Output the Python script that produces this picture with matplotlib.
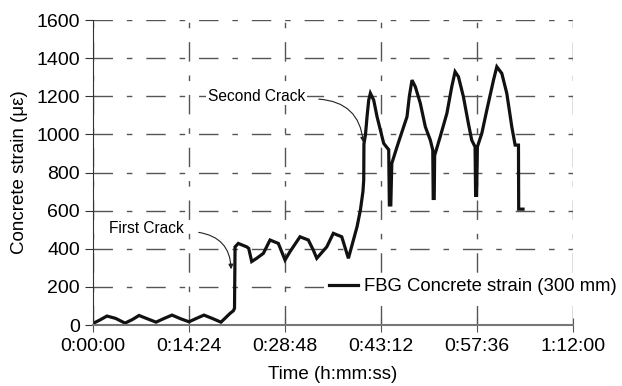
import matplotlib
matplotlib.use("Agg")
import matplotlib.pyplot as plt
from matplotlib.ticker import FuncFormatter, FixedLocator

plt.rcParams['font.family'] = ['Liberation Sans', 'DejaVu Sans']

# tiempo (s) y deformacion (microstrain)
t = [0, 55, 123, 200, 286, 350, 412, 490, 565, 640, 709, 790, 862, 930, 997,
     1070, 1150, 1195, 1230, 1262, 1272, 1277, 1306, 1382, 1400, 1427, 1472,
     1532, 1592, 1667, 1727, 1772, 1862, 1937, 1982, 2013, 2103, 2162, 2238,
     2298, 2331, 2376, 2406, 2429, 2436, 2438, 2452, 2467, 2481, 2496, 2526,
     2556, 2586, 2616, 2640, 2661, 2667, 2680, 2689, 2736, 2766, 2826, 2847,
     2871, 2901, 2946, 2991, 3036, 3058, 3062, 3071, 3075, 3125, 3185, 3229,
     3259, 3289, 3334, 3379, 3409, 3439, 3444, 3453, 3460, 3500, 3545, 3605,
     3635, 3680, 3725, 3770, 3800, 3830, 3832, 3871]
strain = [9, 25, 47, 35, 10, 28, 50, 32, 15, 35, 52, 32, 17, 35, 52,
          35, 15, 40, 60, 75, 88, 410, 428, 410, 402, 333, 350,
          376, 446, 428, 341, 385, 463, 446, 393, 350, 410, 481, 463,
          350, 420, 516, 603, 700, 760, 950, 1000, 1100, 1180, 1216, 1180,
          1093, 1023, 953, 935, 920, 630, 630, 848, 935, 988, 1093, 1200,
          1285, 1250, 1163, 1040, 970, 918, 664, 664, 890, 988, 1110, 1250,
          1329, 1303, 1198, 1057, 970, 935, 680, 680, 935, 1006, 1128, 1285,
          1355, 1320, 1215, 1040, 944, 944, 608, 608]

x_ticks = [0, 864, 1728, 2592, 3456, 4320]
y_ticks = [0, 200, 400, 600, 800, 1000, 1200, 1400, 1600]


def hms(v, pos=None):
    v = int(round(v))
    return f"{v // 3600}:{(v % 3600) // 60:02d}:{v % 60:02d}"


fig = plt.figure(figsize=(6.22, 3.86), dpi=100)
ax = fig.add_axes([0.150, 0.158, 0.771, 0.790])

ax.plot(t, strain, color="#111111", lw=2.3, label="FBG Concrete strain (300 mm)",
        solid_joinstyle="miter")

ax.set_xlim(0, 4320)
ax.set_ylim(0, 1600)
ax.xaxis.set_major_locator(FixedLocator(x_ticks))
ax.yaxis.set_major_locator(FixedLocator(y_ticks))
ax.xaxis.set_major_formatter(FuncFormatter(hms))

ax.grid(True, color="#555555", lw=1, linestyle=(0, (14, 10, 4, 10)))
ax.set_axisbelow(True)
for s in ["top", "right"]:
    ax.spines[s].set_visible(False)
ax.spines["left"].set_color("#333333")
ax.spines["bottom"].set_color("#777777")
ax.spines["bottom"].set_linewidth(1.5)
ax.tick_params(axis="y", direction="out", length=6, labelsize=14, color="#333333")
ax.tick_params(axis="x", direction="inout", length=10, labelsize=14, color="#555555", pad=4)

ax.set_xlabel("Time (h:mm:ss)", fontsize=13.5, labelpad=8)
ax.set_ylabel("Concrete strain (με)", fontsize=13.5, labelpad=6)

ax.annotate("", xy=(2434, 944), xytext=(2006, 1186),
            arrowprops=dict(arrowstyle="-|>", color="#222222", lw=0.8,
                            mutation_scale=7,
                            connectionstyle="arc3,rad=-0.45"))
ax.text(1908, 1201, "Second Crack", fontsize=11.2, ha="right", va="center",
        bbox=dict(facecolor="white", edgecolor="none", pad=1))
ax.annotate("", xy=(1241, 278), xytext=(925, 488),
            arrowprops=dict(arrowstyle="-|>", color="#222222", lw=0.8,
                            mutation_scale=7,
                            connectionstyle="arc3,rad=-0.45"))
ax.text(817, 504, "First Crack", fontsize=11.2, ha="right", va="center",
        bbox=dict(facecolor="white", edgecolor="none", pad=1))

leg = ax.legend(loc="center left", bbox_to_anchor=(0.487, 0.125), fontsize=13.3,
                frameon=True, handlelength=1.6, handletextpad=0.3,
                borderpad=0.1, borderaxespad=0)
leg.get_frame().set_edgecolor("none")
leg.get_frame().set_facecolor("white")
leg.get_frame().set_alpha(1)

fig.savefig("out.png", dpi=100)
